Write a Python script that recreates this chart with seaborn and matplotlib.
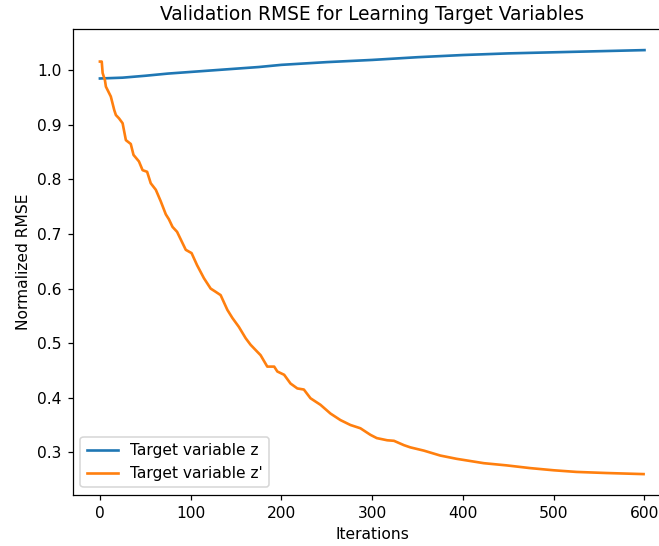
import numpy as np
import pandas as pd
import matplotlib
matplotlib.use("Agg")
import matplotlib.pyplot as plt
import seaborn as sns

# Target variable z (slowly rising)
z_iters = [0, 25, 50, 75, 100, 125, 150, 175, 200, 250, 300, 350, 400, 450, 500, 550, 600]
z_rmse = [0.985, 0.9865, 0.990, 0.994, 0.997, 1.000, 1.003, 1.006, 1.010, 1.015,
          1.019, 1.024, 1.028, 1.031, 1.033, 1.035, 1.037]

# Target variable z' (falling, stair-like)
zp_iters = [0, 2, 3, 5.5, 6.6, 12, 15.8, 17.6, 21, 25, 28.6, 34, 37, 43, 47, 52, 56,
            61.6, 67, 72.6, 76, 80, 85, 94.6, 101, 107, 114.6, 122, 127.6, 133,
            140.4, 146, 153, 160.6, 166, 173.5, 177, 184.4, 192, 195.5, 203, 210,
            217.5, 224.7, 232, 243, 254, 265, 276, 287, 298, 305, 316.5, 324, 335,
            342, 357, 375, 393, 423, 448, 474, 500, 525, 558, 599]
zp_rmse = [1.016, 1.016, 0.995, 0.982, 0.970, 0.952, 0.927, 0.918, 0.912, 0.903,
           0.872, 0.865, 0.845, 0.833, 0.817, 0.814, 0.793, 0.781, 0.760, 0.736,
           0.727, 0.713, 0.704, 0.671, 0.665, 0.643, 0.619, 0.600, 0.594, 0.588,
           0.561, 0.546, 0.530, 0.509, 0.497, 0.484, 0.478, 0.457, 0.457, 0.448,
           0.442, 0.426, 0.417, 0.415, 0.399, 0.387, 0.371, 0.359, 0.350, 0.344,
           0.332, 0.326, 0.322, 0.321, 0.313, 0.309, 0.303, 0.294, 0.288, 0.280,
           0.276, 0.271, 0.267, 0.264, 0.262, 0.260]

# render at a slightly higher dpi so text and lines come out like the original
dpi = 112
fig = plt.figure(figsize=(659 / dpi, 546 / dpi), dpi=dpi)
ax = fig.add_axes([0.1103, 0.0929, 0.909, 0.854])

sns.lineplot(x=z_iters, y=z_rmse, ax=ax, color="tab:blue", label="Target variable z", linewidth=1.7)
sns.lineplot(x=zp_iters, y=zp_rmse, ax=ax, color="tab:orange", label="Target variable z'", linewidth=1.7)

ax.set_xlim(-30, 630)
ax.set_ylim(0.2212, 1.0757)
ax.set_xticks([0, 100, 200, 300, 400, 500, 600])
ax.set_yticks([0.3, 0.4, 0.5, 0.6, 0.7, 0.8, 0.9, 1.0])
ax.set_title("Validation RMSE for Learning Target Variables")
ax.set_xlabel("Iterations")
ax.set_ylabel("Normalized RMSE")
ax.legend(loc="lower left")

fig.savefig("out.png", dpi=dpi)
